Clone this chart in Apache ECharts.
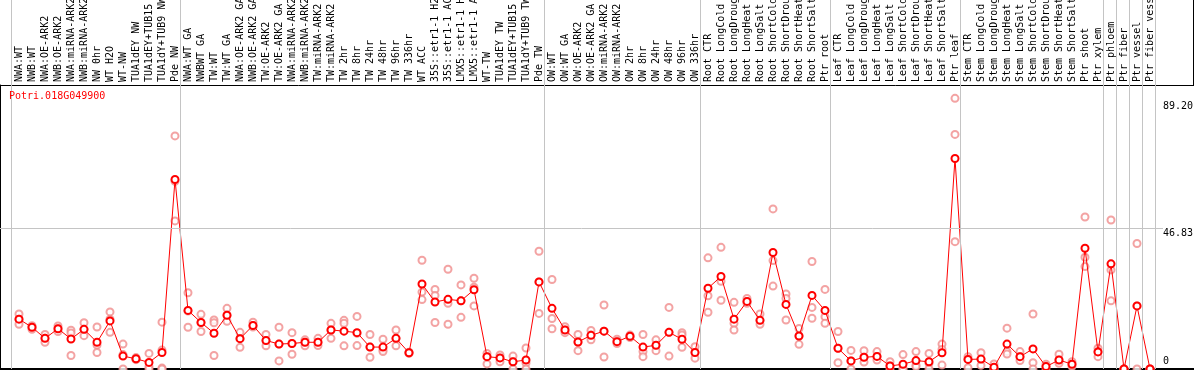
<!DOCTYPE html>
<html><head><meta charset="utf-8">
<script src="https://cdn.jsdelivr.net/npm/echarts@6/dist/echarts.min.js"></script>
<style>html,body{margin:0;padding:0;background:#fff}#c{width:1194px;height:370px}</style>
</head><body><div id="c"></div>
<script>
const geneId = 'Potri.018G049900';

const categories = [
  'NWA:WT','NWB:WT','NWA:OE-ARK2','NWB:OE-ARK2','NWA:miRNA-ARK2','NWB:miRNA-ARK2','NW 0hr','WT H2O','WT-NW',
  'TUA1dEY NW','TUA1dEY+TUB15 NW','TUA1dY+TUB9 NW','Pde NW',
  'NWA:WT GA','NWBWT GA','TW:WT','TW:WT GA','NWA:OE-ARK2 GA','NWB:OE-ARK2 GA','TW:OE-ARK2','TW:OE-ARK2 GA',
  'NWA:miRNA-ARK2','NWB:miRNA-ARK2','TW:miRNA-ARK2','TW:miRNA-ARK2','TW 2hr','TW 8hr','TW 24hr','TW 48hr','TW 96hr','TW 336hr',
  'WT ACC','35S::etr1-1 H2O','35S::etr1-1 ACC','LMX5::etr1-1 H2O','LMX5::etr1-1 ACC','WT-TW',
  'TUA1dEY TW','TUA1dEY+TUB15 TW','TUA1dY+TUB9 TW','Pde TW',
  'OW:WT','OW:WT GA','OW:OE-ARK2','OW:OE-ARK2 GA','OW:miRNA-ARK2','OW:miRNA-ARK2','OW 2hr','OW 8hr','OW 24hr','OW 48hr','OW 96hr','OW 336hr',
  'Root CTR','Root LongCold','Root LongDrought','Root LongHeat','Root LongSalt','Root ShortCold','Root ShortDrought','Root ShortHeat','Root ShortSalt','Ptr root',
  'Leaf CTR','Leaf LongCold','Leaf LongDrought','Leaf LongHeat','Leaf LongSalt','Leaf ShortCold','Leaf ShortDrought','Leaf ShortHeat','Leaf ShortSalt','Ptr leaf',
  'Stem CTR','Stem LongCold','Stem LongDrought','Stem LongHeat','Stem LongSalt','Stem ShortCold','Stem ShortDrought','Stem ShortHeat','Stem ShortSalt',
  'Ptr shoot','Ptr xylem','Ptr phloem','Ptr fiber','Ptr vessel','Ptr fiber vessel'
];

const means = [
  16.6,13.9,10.2,13.4,10.0,13.2,8.9,16.0,4.3,3.4,2.2,5.5,63.1,
  19.5,15.5,11.9,17.9,10.1,14.5,9.5,8.3,8.5,8.9,8.9,13.0,12.6,12.1,7.3,7.3,10.2,5.4,
  28.3,22.3,23.2,22.7,26.4,4.1,3.7,2.4,3.0,29.0,
  20.2,13.0,9.0,11.2,12.6,9.1,10.9,7.3,7.9,12.2,9.9,5.5,
  26.9,30.8,16.6,22.5,16.2,38.8,21.5,11.0,24.5,19.5,
  6.9,2.7,3.9,4.2,1.0,1.6,2.8,2.4,5.4,70.1,
  3.2,3.3,0.6,8.3,4.1,6.7,0.8,3.0,1.6,
  40.2,5.7,35.0,0,21.0,0
];

const replicates = [
  [18.3,16.6,14.9],[14.4,13.9,13.2],[11.5,10.2,8.9],[14.3,13.4,12.5],[12.9,12.0,4.5],[15.4,13.2,11.1],
  [14.0,8.0,5.5],[19.0,16.6,12.2],[8.3,4.8,0],[3.8,3.3,3.1],[5.2,0.8,0.1],[15.6,6.3,0.3,0],[77.6,62.5,49.3],
  [25.4,19.3,13.9],[18.2,15.5,12.5],[16.3,15.4,4.5],[20.2,17.9,15.9],[12.2,10.1,7.2],[15.6,14.5,14.0],
  [11.5,9.5,7.7],[13.9,8.3,2.7],[12.1,8.5,4.9],[9.7,8.9,7.7],[10.2,8.9,7.8],[15.2,13.0,10.2],[16.2,15.2,7.7],
  [17.5,11.9,7.8],[11.5,7.3,3.9],[9.9,6.4,5.8],[13.0,10.2,7.7],[5.6,5.4,5.2],
  [36.2,25.6,23.1],[26.5,24.5,15.5],[33.2,21.9,14.9],[28.0,22.7,17.2],[30.2,27.2,21.0],[5.2,4.1,1.7],
  [4.7,3.6,2.4],[4.3,2.4,0],[7.0,2.0,0],[39.2,29.0,18.5],
  [29.8,16.8,13.4],[14.1,13.0,12.1],[11.5,8.9,6.1],[12.8,11.3,9.7],[21.3,12.6,4.0],[9.9,9.1,8.5],
  [11.3,10.9,10.5],[11.5,5.8,4.1],[9.7,7.8,6.1],[20.5,12.2,4.3],[12.1,11.3,7.2],[7.4,5.5,3.6],
  [37.0,24.4,18.9],[40.5,29.2,22.9],[22.2,15.2,13.0],[23.5,22.5,21.9],[18.3,16.2,14.9],[53.3,36.1,27.6],
  [25.0,23.5,16.3],[13.5,11.0,8.2],[35.8,20.5,16.9],[26.5,17.4,15.2],
  [12.5,6.9,2.1],[6.2,2.7,0],[6.1,3.9,2.3],[5.8,4.2,3.0],[2.4,1.0,0],[4.8,0.3,0],[5.8,1.3,0.8],
  [5.2,1.9,0],[8.3,6.5,1.3],[90.1,78.1,42.4],
  [4.1,3.2,0.4],[5.4,3.2,1.2],[1.7,0,0],[13.6,5.8,5.0],[5.8,4.1,2.8],[18.3,2.1,0],[1.6,0.8,0],
  [4.9,3.0,1.9],[2.4,1.6,0.8],
  [50.6,37.2,34.1],[6.9,5.8,4.1],[49.6,33.0,22.7],[0,0,0],[41.8,21.0,0],[0,0,0]
];

const yTickValues = [0, 46.83, 89.2];
const gridLineValues = [46.83];
// group separators: drawn just after these category indices (-1 = before the first)
const separatorsAfter = [-1, 12, 40, 52, 62, 72, 83, 84, 85, 86, 87];

// ---- layout ----
const W = 1194, H = 370;
const PLOT_TOP = 85, PLOT_BOTTOM = 369, PLOT_RIGHT = 1163;
const FIRST_X = 19, STEP = 13;
const Y_AT_TOP = 89.2 * 1.06;                               // value at plot top
const Y_AT_CANVAS_TOP = Y_AT_TOP * PLOT_BOTTOM / (PLOT_BOTTOM - PLOT_TOP);
const SEP_OFFSET = 5.3 / STEP;
const MONO = "'DejaVu Sans Mono', monospace";

const repData = [];
replicates.forEach((arr, i) => arr.forEach(v => repData.push([i, v])));
const meanData = means.map((v, i) => [i, v]);

const chart = echarts.init(document.getElementById('c'), null, {renderer: 'canvas'});
chart.setOption({
  animation: false,
  backgroundColor: '#ffffff',
  title: {
    text: geneId, left: 9, top: 91, padding: 0,
    textStyle: {color: '#ff0000', fontFamily: MONO, fontSize: 10, fontWeight: 'normal'}
  },
  grid: [
    {left: 0, top: 0, width: PLOT_RIGHT, height: PLOT_BOTTOM, containLabel: false, outerBoundsMode: 'none'},
    {left: FIRST_X - STEP / 2, top: PLOT_TOP, width: categories.length * STEP, height: PLOT_BOTTOM - PLOT_TOP,
     containLabel: false, outerBoundsMode: 'none'},
    {left: 0, top: PLOT_TOP, width: W, height: PLOT_BOTTOM - PLOT_TOP, containLabel: false, outerBoundsMode: 'none'}
  ],
  xAxis: [
    {type: 'value', gridIndex: 0, min: -FIRST_X / STEP, max: (PLOT_RIGHT - FIRST_X) / STEP,
     show: false},
    {type: 'category', gridIndex: 1, position: 'top', data: categories, boundaryGap: true,
     axisLine: {show: false}, axisTick: {show: false}, splitLine: {show: false},
     axisLabel: {interval: 0, rotate: 90, margin: 3, color: '#000', fontFamily: MONO, fontSize: 10,
                 hideOverlap: false}},
    {type: 'value', gridIndex: 2, position: 'bottom', min: 0, max: 1,
     axisLine: {show: true, lineStyle: {color: '#000', width: 2}}, axisTick: {show: false},
     axisLabel: {show: false}, splitLine: {show: false}},
    {type: 'value', gridIndex: 2, position: 'top', min: 0, max: 1,
     axisLine: {show: true, lineStyle: {color: '#000', width: 1}}, axisTick: {show: false},
     axisLabel: {show: false}, splitLine: {show: false}}
  ],
  yAxis: [
    {type: 'value', gridIndex: 0, position: 'right', min: 0, max: Y_AT_CANVAS_TOP,
     axisLine: {show: false}, axisTick: {show: false}, splitLine: {show: false},
     axisLabel: {
       customValues: yTickValues, margin: 0, align: 'left', color: '#000',
       fontFamily: MONO, fontSize: 10,
       formatter: v => v === 0 ? '{b|0}' : '{a|' + v.toFixed(2) + '}',
       rich: {
         a: {fontFamily: MONO, fontSize: 10, lineHeight: 12, color: '#000', padding: [10, 0, 0, 0]},
         b: {fontFamily: MONO, fontSize: 10, lineHeight: 12, color: '#000', padding: [0, 0, 15, 0]}
       }
     }},
    {type: 'value', gridIndex: 1, show: false, min: 0, max: 1},
    {type: 'value', gridIndex: 2, position: 'left', min: 0, max: 1,
     axisLine: {show: true, lineStyle: {color: '#000', width: 1}}, axisTick: {show: false},
     axisLabel: {show: false}, splitLine: {show: false}}
  ],
  graphic: [
    {type: 'line', silent: true, shape: {x1: W - 0.5, y1: 0, x2: W - 0.5, y2: PLOT_TOP},
     style: {stroke: '#000', lineWidth: 1}}
  ],
  series: [
    {
      type: 'scatter', xAxisIndex: 0, yAxisIndex: 0, data: repData,
      symbol: 'emptyCircle', symbolSize: 7, z: 2,
      itemStyle: {color: '#f08c8c', borderColor: '#f08c8c', borderWidth: 1},
      silent: true,
      markLine: {
        silent: true, symbol: 'none', label: {show: false},
        lineStyle: {color: '#c4c4c4', width: 1, type: 'solid'},
        data: separatorsAfter.map(i => ({xAxis: i + SEP_OFFSET}))
          .concat(gridLineValues.map(v => ({yAxis: v})))
      }
    },
    {
      type: 'line', xAxisIndex: 0, yAxisIndex: 0, data: meanData,
      symbol: 'emptyCircle', symbolSize: 7, showAllSymbol: true, z: 3,
      lineStyle: {color: '#ff0000', width: 1},
      itemStyle: {color: '#ff0000', borderColor: '#ff0000', borderWidth: 1.6},
      silent: true
    }
  ]
});
</script></body></html>
